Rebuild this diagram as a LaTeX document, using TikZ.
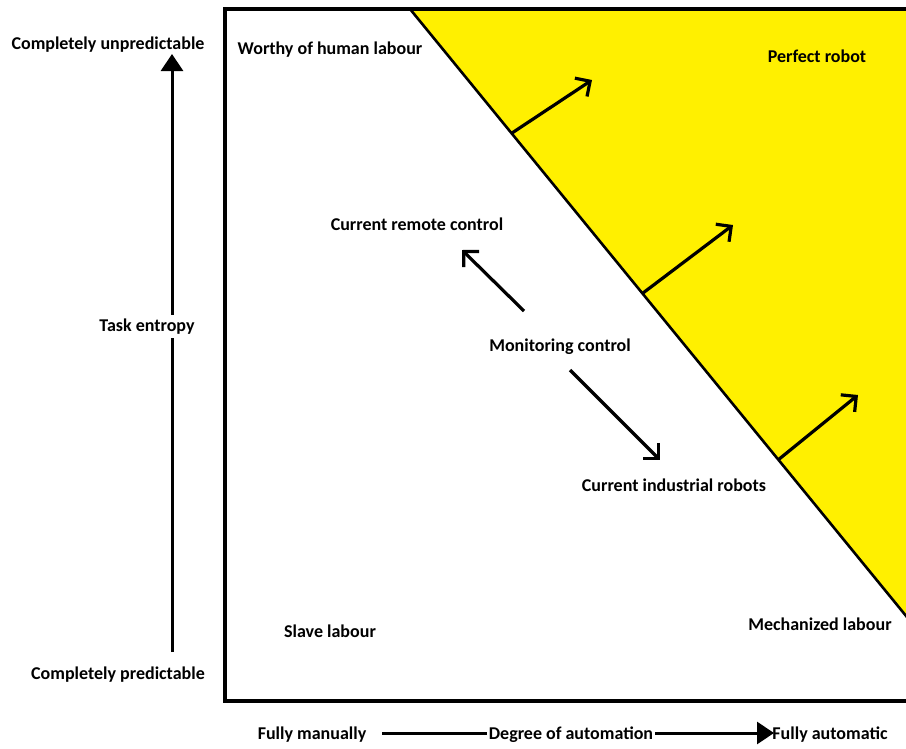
\documentclass[tikz,border=0pt]{standalone}
\usepackage{fontspec}
\setmainfont{Carlito}
\usetikzlibrary{arrows.meta}
\definecolor{robotyellow}{RGB}{255,240,0}
\tikzset{
  lbl/.style={font=\bfseries\fontsize{18}{21}\selectfont, inner sep=1pt, yshift=-1.5pt},
  pusharrow/.style={line width=3.2pt, -{Straight Barb[length=11pt,width=22pt,line width=3.2pt]}},
  axisarrow/.style={line width=3pt, -{Triangle[length=17pt,width=22pt]}}
}
\begin{document}
\begin{tikzpicture}[x=1pt,y=-1pt]
  \useasboundingbox (0,0) rectangle (906,748);
  % automated region above the diagonal
  \fill[robotyellow] (410,9) -- (920,9) -- (920,632) -- cycle;
  % frame
  \draw[line width=3.4pt] (920,9) -- (225,9) -- (225,701) -- (920,701);
  % boundary between manual and automatic work
  \coordinate (dtop) at (410,9);
  \coordinate (dbot) at (920,633);
  \draw[line width=2.6pt] (dtop) -- (dbot);

  % push arrows on the boundary
  \coordinate (p1) at (512,133);  \coordinate (q1) at (592,80);
  \coordinate (p2) at (643,293);  \coordinate (q2) at (733,225);
  \coordinate (p3) at (778,460);  \coordinate (q3) at (858,395);
  \draw[pusharrow] (p1) -- (q1);
  \draw[pusharrow] (p2) -- (q2);
  \draw[pusharrow] (p3) -- (q3);

  % region labels
  \node[lbl] (worthy) at (330,48) {Worthy of human labour};
  \node[lbl] (perfect) at (817,55) {Perfect robot};
  \node[lbl] (remote) at (417,223) {Current remote control};
  \node[lbl] (monitor) at (560,345) {Monitoring control};
  \node[lbl] (industrial) at (674,484) {Current industrial robots};
  \node[lbl] (slave) at (330,630) {Slave labour};
  \node[lbl] (mech) at (820,623) {Mechanized labour};

  \coordinate (m1s) at (524,311); \coordinate (m1e) at (462,250);
  \coordinate (m2s) at (570,370); \coordinate (m2e) at (660,460);
  \draw[pusharrow] (m1s) -- (m1e);
  \draw[pusharrow] (m2s) -- (m2e);

  % vertical axis
  \node[lbl] (unpred) at (108,43) {Completely unpredictable};
  \node[lbl] (pred) at (118,673) {Completely predictable};
  \coordinate (ybot) at (172,652);
  \coordinate (ytop) at (172,54);
  \draw[axisarrow] (ybot) -- (ytop);
  \node[lbl, fill=white, inner sep=4pt] (entropy) at (147,325) {Task entropy};

  % horizontal axis
  \node[lbl] (manual) at (312,733) {Fully manually};
  \node[lbl] (auto) at (830,733) {Fully automatic};
  \coordinate (xl) at (382,733);
  \coordinate (xr) at (774,733);
  \draw[axisarrow] (xl) -- (xr);
  \node[lbl, fill=white, inner sep=2pt] (degree) at (571,733) {Degree of automation};
\end{tikzpicture}
\end{document}
